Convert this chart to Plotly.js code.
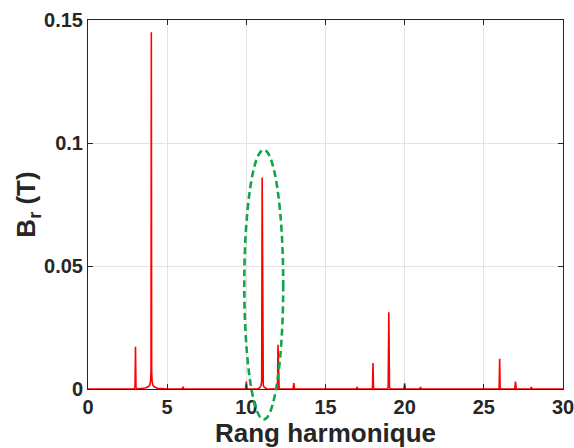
<!DOCTYPE html>
<html>
<head>
<meta charset="utf-8">
<script src="https://cdn.plot.ly/plotly-3.0.1.min.js"></script>
<style>html,body{margin:0;padding:0;background:#fff;}#chart{width:574px;height:448px;}</style>
</head>
<body>
<div id="chart"></div>
<script>
// Harmonic rank (x) and radial flux density Br in tesla (y)
const harmonicRank = [0, 2.0, 2.9, 2.97, 3.0, 3.03, 3.1, 3.6, 3.8, 3.9, 3.95, 3.98, 4.0, 4.02, 4.05, 4.1, 4.2, 4.4,
  5.0, 5.95, 6.0, 6.05, 9.0, 9.95, 10.0, 10.05, 10.7, 10.85, 10.93, 10.97, 11.0, 11.03, 11.07, 11.15, 11.3,
  11.93, 11.97, 12.0, 12.03, 12.07, 12.95, 13.0, 13.05, 16.95, 17.0, 17.05, 17.9, 17.97, 18.0, 18.03, 18.1,
  18.9, 18.96, 19.0, 19.04, 19.1, 19.95, 20.0, 20.05, 20.95, 21.0, 21.05, 25.9, 25.97, 26.0, 26.03, 26.1,
  26.95, 27.0, 27.05, 27.95, 28.0, 28.05, 30];
const radialField = [0, 0, 0, 0.0006, 0.0172, 0.0006, 0, 0.0004, 0.0009, 0.0016, 0.0032, 0.007, 0.145, 0.007, 0.003, 0.0015, 0.0008, 0.0003,
  0, 0, 0.0009, 0, 0, 0, 0.003, 0, 0, 0.0005, 0.0014, 0.0032, 0.086, 0.0032, 0.0013, 0.0006, 0,
  0, 0.0006, 0.018, 0.0006, 0, 0, 0.0024, 0, 0, 0.0008, 0, 0, 0.0005, 0.0106, 0.0005, 0,
  0, 0.0008, 0.0312, 0.0008, 0, 0, 0.0023, 0, 0, 0.0008, 0, 0, 0.0004, 0.0123, 0.0004, 0,
  0, 0.003, 0, 0, 0.0008, 0, 0];

const xTickVals = [0, 5, 10, 15, 20, 25, 30];
const yTickVals = [0, 0.05, 0.1, 0.15];
const yTickText = ['0', '0.05', '0.1', '0.15'];

const textColor = '#262626';
const fontFam = 'Liberation Sans, Arial, sans-serif';

const trace = {
  x: harmonicRank,
  y: radialField,
  type: 'scatter',
  mode: 'lines',
  line: {color: '#ff0000', width: 1.6},
  hoverinfo: 'skip',
  cliponaxis: false
};

const axisCommon = {
  showline: true,
  linecolor: textColor,
  linewidth: 1,
  mirror: 'ticks',
  ticks: 'inside',
  ticklen: 5,
  tickcolor: textColor,
  showgrid: true,
  gridcolor: '#e3e3e3',
  gridwidth: 1,
  zeroline: false,
  ticklabeloverflow: 'allow',
  tickfont: {family: fontFam, size: 20, color: textColor, weight: 'bold'}
};

const layout = {
  width: 574,
  height: 448,
  margin: {l: 88, r: 11, t: 20, b: 58.5},
  paper_bgcolor: '#ffffff',
  plot_bgcolor: '#ffffff',
  showlegend: false,
  xaxis: Object.assign({}, axisCommon, {
    range: [0, 30],
    tickvals: xTickVals,
    ticktext: xTickVals.map(String),
    title: {text: 'Rang harmonique', font: {family: fontFam, size: 26, color: textColor, weight: 'bold'}, standoff: 2}
  }),
  yaxis: Object.assign({}, axisCommon, {
    range: [0, 0.15],
    tickvals: yTickVals,
    ticktext: yTickText,
    title: {text: 'B<sub>r</sub> (T)', font: {family: fontFam, size: 26, color: textColor, weight: 'bold'}, standoff: 0}
  }),
  shapes: [{
    type: 'circle',
    xref: 'paper', yref: 'paper',
    x0: 0.329, x1: 0.411, y0: -0.0825, y1: 0.648,
    line: {color: '#13a54a', width: 2.6, dash: '7px,4px'},
    fillcolor: 'rgba(0,0,0,0)',
    layer: 'above'
  }]
};

Plotly.newPlot('chart', [trace], layout, {staticPlot: true, displayModeBar: false});
</script>
</body>
</html>
